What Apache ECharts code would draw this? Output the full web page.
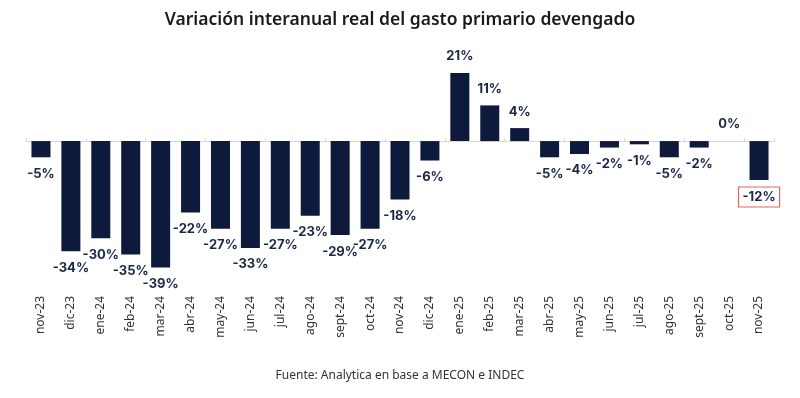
<!DOCTYPE html>
<html><head><meta charset="utf-8">
<script src="https://cdn.jsdelivr.net/npm/echarts@6/dist/echarts.min.js"></script>
<style>html,body{margin:0;padding:0;background:#fff}#c{width:800px;height:398px}</style>
</head><body><div id="c"></div>
<script>
const categories = ['nov-23','dic-23','ene-24','feb-24','mar-24','abr-24','may-24','jun-24','jul-24','ago-24','sept-24','oct-24','nov-24','dic-24','ene-25','feb-25','mar-25','abr-25','may-25','jun-25','jul-25','ago-25','sept-25','oct-25','nov-25'];
const values = [-5,-34,-30,-35,-39,-22,-27,-33,-27,-23,-29,-27,-18,-6,21,11,4,-5,-4,-2,-1,-5,-2,0,-12];
const highlighted = ['nov-25'];

const navy = '#0e1a3b';
const chart = echarts.init(document.getElementById('c'));
const data = values.map((v, i) => {
  const item = { value: v, label: { position: v >= 0 ? 'top' : 'bottom' } };
  if (highlighted.includes(categories[i])) {
    item.label.borderColor = '#e8645f';
    item.label.borderWidth = 1.2;
    item.label.padding = [4, 4, 3, 4];
    item.label.distance = 7;
  }
  return item;
});
chart.setOption({
  animation: false,
  title: {
    text: 'Variación interanual real del gasto primario devengado',
    left: 'center', top: 6,
    textStyle: { fontFamily: 'Noto Sans', fontWeight: 600, fontSize: 17.5, color: '#1a1a1a' }
  },
  graphic: [{
    type: 'text', left: 'center', top: 370,
    style: { text: 'Fuente: Analytica en base a MECON e INDEC', font: '12px "Noto Sans"', fill: '#333' }
  }],
  grid: { left: 26, right: 26, top: 60, bottom: 111 },
  xAxis: [{
    type: 'category', data: categories, position: 'bottom',
    axisLine: { show: false, onZero: false }, axisTick: { show: false },
    axisLabel: { rotate: 90, margin: 9, fontSize: 12, color: '#333', fontFamily: 'Noto Sans', interval: 0 }
  }, {
    type: 'category', data: categories, position: 'bottom',
    axisLine: { show: true, onZero: true, lineStyle: { color: '#d9d9d9', width: 1 } },
    axisTick: { show: true, inside: true, length: 3, lineStyle: { color: '#d9d9d9' } },
    axisLabel: { show: false }
  }],
  yAxis: { type: 'value', min: -45, max: 25, show: false, splitLine: { show: false } },
  series: [{
    type: 'bar', data: data, xAxisIndex: 0, barWidth: 19,
    itemStyle: { color: navy },
    label: {
      show: true, distance: 10, formatter: p => p.value + '%',
      fontFamily: 'Inter', fontWeight: 'bold', fontSize: 13, color: '#1c2748'
    }
  }]
});
</script></body></html>
